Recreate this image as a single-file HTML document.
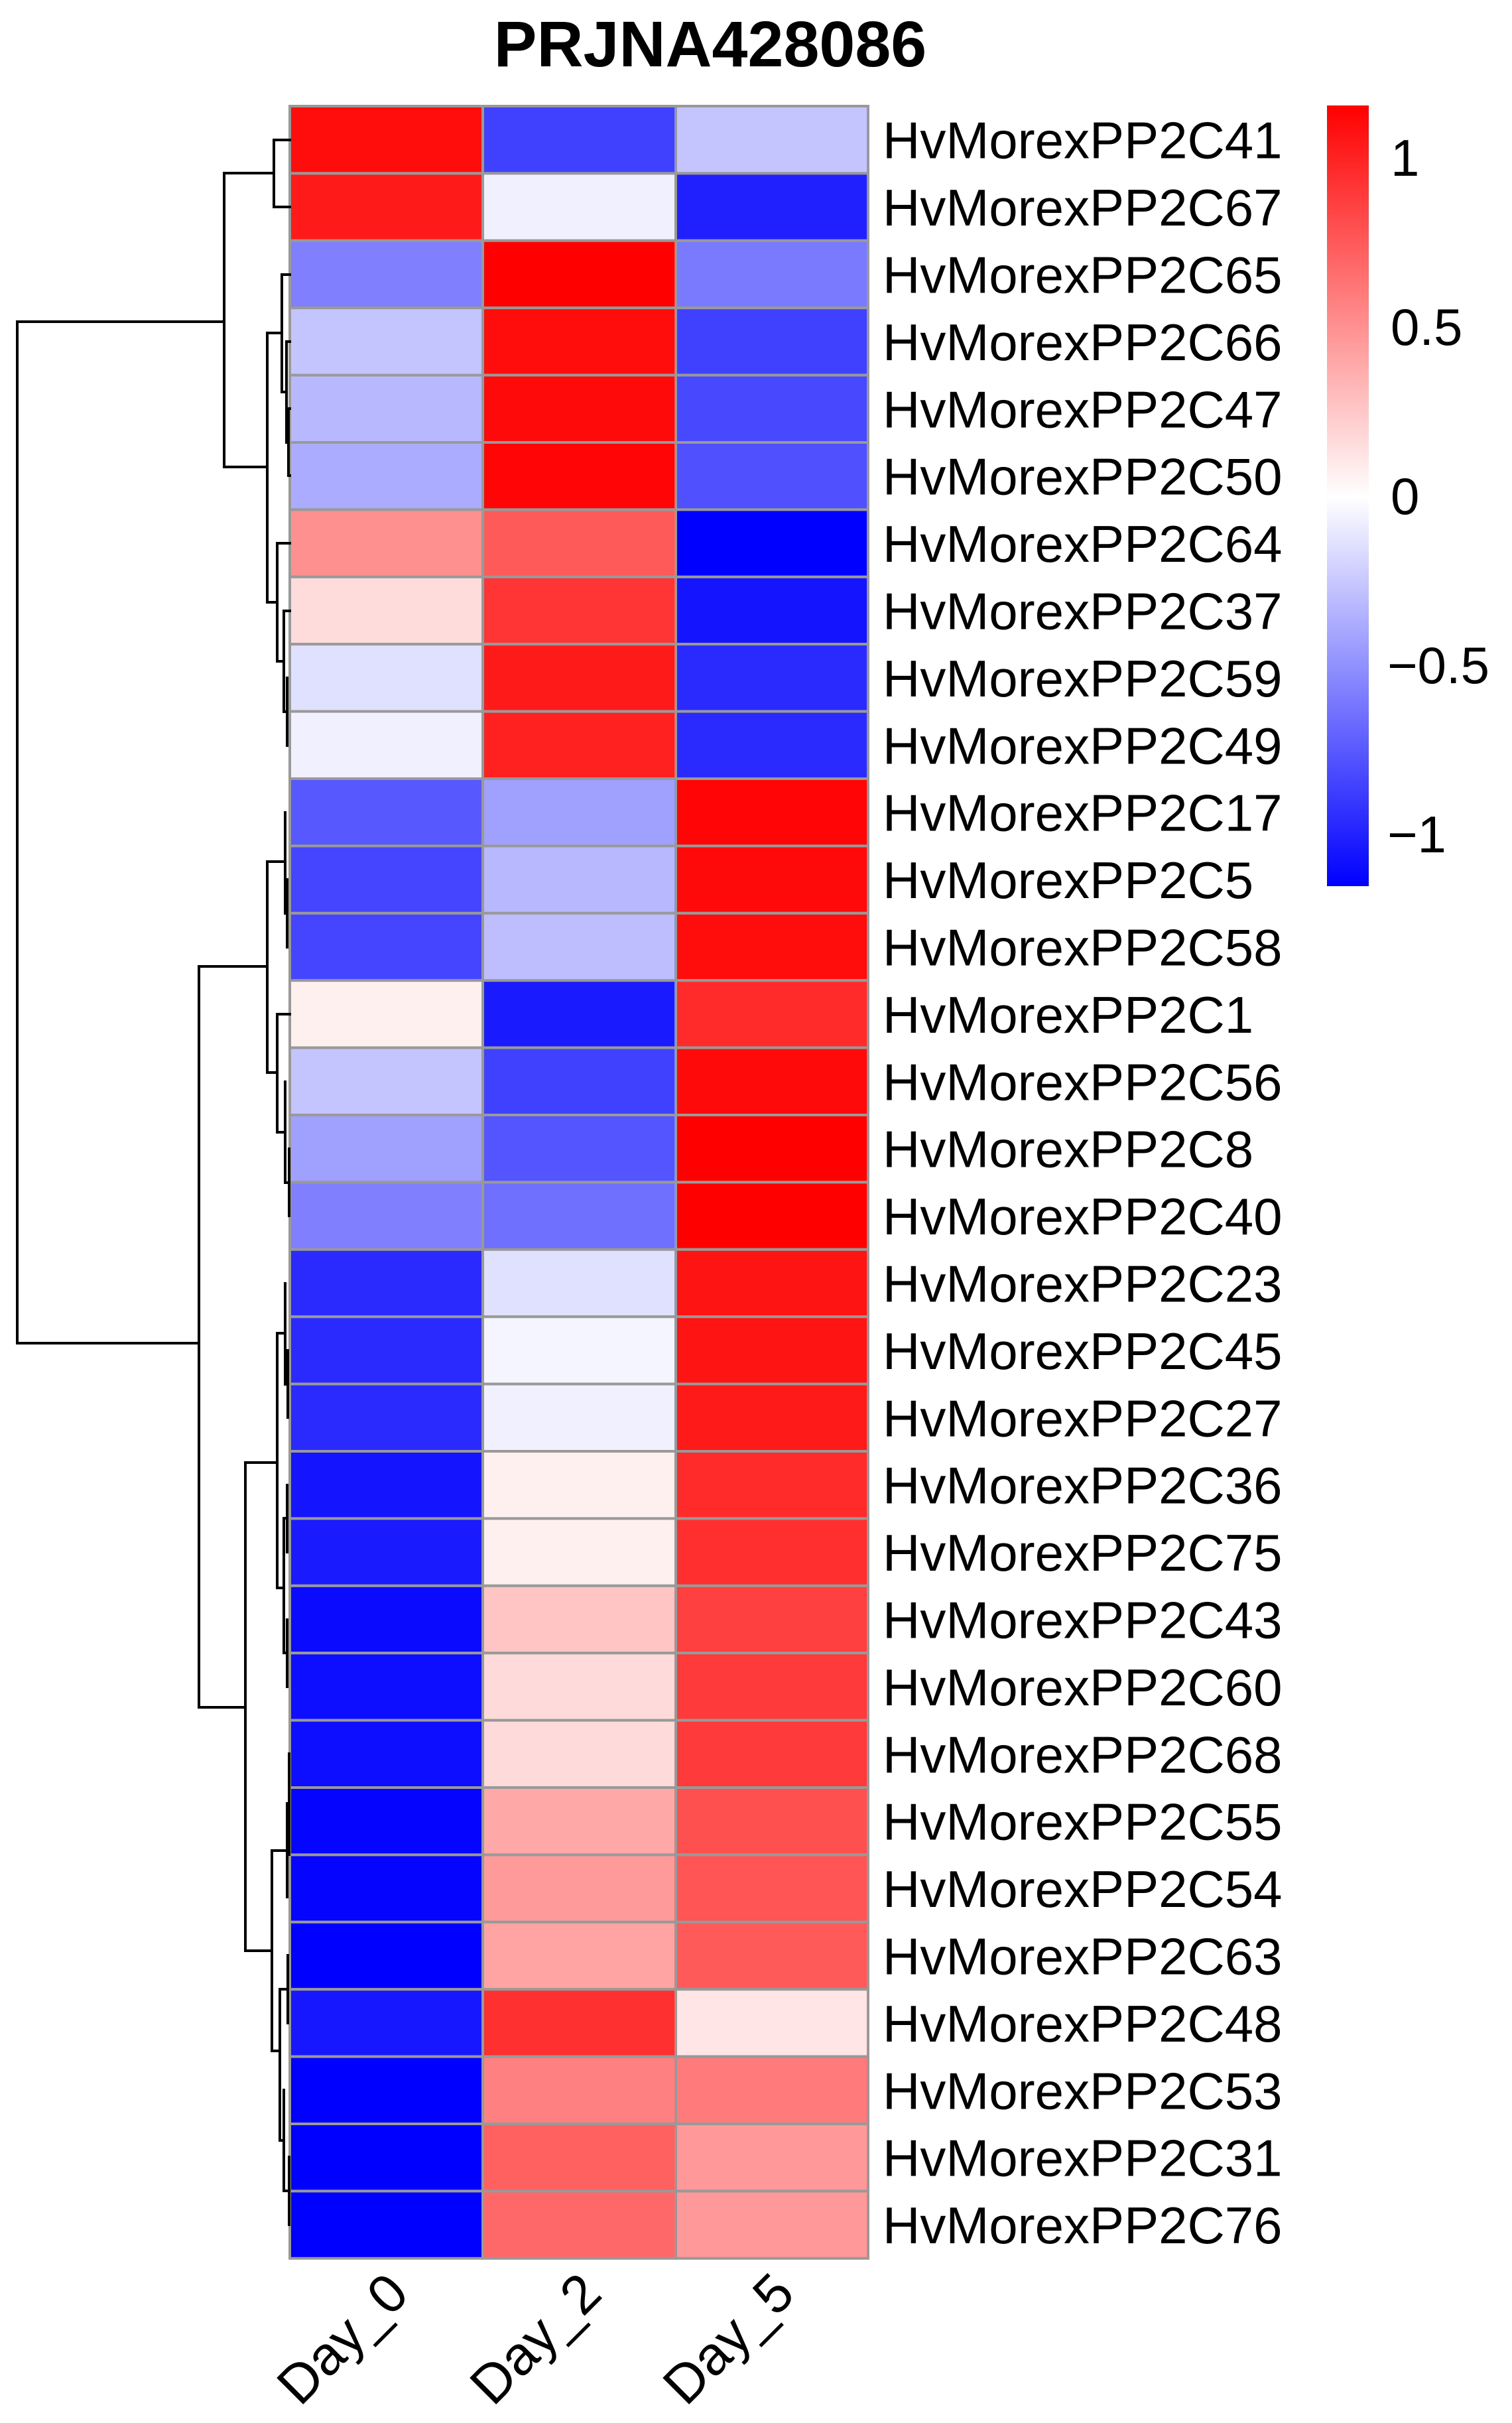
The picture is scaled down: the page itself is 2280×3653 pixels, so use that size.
<!DOCTYPE html>
<html><head><meta charset="utf-8"><style>html,body{margin:0;padding:0;background:#fff}svg{display:block}</style></head><body>
<svg width="2280" height="3653" viewBox="0 0 2280 3653" xmlns="http://www.w3.org/2000/svg" font-family="Liberation Sans, Arial, sans-serif">
<defs>
<linearGradient id="cb" x1="0" y1="0" x2="0" y2="1">
<stop offset="0" stop-color="#FF0000"/>
<stop offset="0.502" stop-color="#FFFFFF"/>
<stop offset="1" stop-color="#0000FF"/>
</linearGradient>
</defs>
<text x="1071" y="100" font-size="97" font-weight="bold" text-anchor="middle">PRJNA428086</text>
<g id="cells" stroke="#999" stroke-width="4">
</g>
<script>
var cols=[
["#FF0D0D","#4040FF","#C4C4FF"],["#FF1A1A","#F0F0FF","#2020FF"],["#8080FF","#FF0000","#7A7AFF"],["#C4C4FF","#FF0D0D","#4040FF"],["#B8B8FF","#FF0A0A","#4848FF"],["#ABABFF","#FF0505","#5050FF"],["#FF9090","#FF5A5A","#0000FF"],["#FFDCDC","#FF3535","#1414FF"],["#E0E0FF","#FF1A1A","#2A2AFF"],["#F0F0FF","#FF2020","#2A2AFF"],["#5858FF","#A0A0FF","#FF0505"],["#4545FF","#B8B8FF","#FF0A0A"],["#4545FF","#BEBEFF","#FF0D0D"],["#FFF0F0","#1A1AFF","#FF2A2A"],["#C4C4FF","#4040FF","#FF0A0A"],["#A0A0FF","#5555FF","#FF0000"],["#8080FF","#7070FF","#FF0000"],["#2A2AFF","#E0E0FF","#FF1414"],["#2A2AFF","#F5F5FF","#FF1414"],["#2A2AFF","#F0F0FF","#FF1A1A"],["#1414FF","#FFF0F0","#FF2A2A"],["#1A1AFF","#FFF0F0","#FF2F2F"],["#0A0AFF","#FFC4C4","#FF4040"],["#0D0DFF","#FFDADA","#FF3A3A"],["#0D0DFF","#FFDADA","#FF3A3A"],["#0505FF","#FFA8A8","#FF5050"],["#0505FF","#FF9A9A","#FF5555"],["#0000FF","#FFA3A3","#FF5A5A"],["#1717FF","#FF3030","#FFE5E5"],["#0000FF","#FF8080","#FF7A7A"],["#0000FF","#FF6060","#FF9999"],["#0000FF","#FF6868","#FF9999"]];
var names=["41","67","65","66","47","50","64","37","59","49","17","5","58","1","56","8","40","23","45","27","36","75","43","60","68","55","54","63","48","53","31","76"];
var xs=[437,728,1019,1309],y0=160,rh=101.4,ns="http://www.w3.org/2000/svg";
var g=document.getElementById("cells"),svg=g.ownerSVGElement;
for(var i=0;i<32;i++){for(var j=0;j<3;j++){var r=document.createElementNS(ns,"rect");r.setAttribute("x",xs[j]);r.setAttribute("y",y0+i*rh);r.setAttribute("width",xs[j+1]-xs[j]);r.setAttribute("height",rh);r.setAttribute("fill",cols[i][j]);g.appendChild(r);}
var t=document.createElementNS(ns,"text");t.setAttribute("x",1331);t.setAttribute("y",y0+(i+0.5)*rh+28);t.setAttribute("font-size","78");t.textContent="HvMorexPP2C"+names[i];svg.appendChild(t);}
</script>
<g stroke="#000" stroke-width="4" fill="none" stroke-linecap="square">
<path d="M26 485V2025M26 485H338M26 2025H300"/>
<path d="M338 261V704M338 261H413M413 211V312M413 211H437M413 312H437"/>
<path d="M338 704H403M403 502V908M403 502H425M425 414V591M425 414H437M425 591H432M432 515V667M432 515H437M432 667H435M435 616V717M435 616H437M435 717H437"/>
<path d="M403 908H418M418 819V997M418 819H437M418 997H428M428 921V1073M428 921H437M428 1073H433M433 1022V1124"/>
<path d="M300 1457V2574M300 1457H403M403 1299V1617M403 1299H430M430 1225V1377M430 1377H433M433 1326V1428M403 1617H418M418 1529V1707M418 1529H437M418 1707H430M430 1631V1783M430 1783H436M436 1732V1833"/>
<path d="M300 2574H370M370 2205V2941M370 2205H418M418 2010V2394M418 2010H430M430 1935V2087M430 2087H434M434 2036V2137M418 2394H428M428 2289V2492M428 2289H433M433 2239V2340M428 2492H433M433 2442V2543"/>
<path d="M370 2941H410M410 2790V3092M410 2790H433M433 2719V2860M433 2719H436M436 2644V2796M410 3092H422M422 2999V3227M422 2999H434M434 2948V3050M422 3227H428M428 3151V3303M428 3303H436M436 3252V3354"/>
</g>
<rect x="2001" y="159" width="63" height="1177" fill="url(#cb)"/>
<g font-size="78">
<text x="2097" y="265">1</text>
<text x="2097" y="520">0.5</text>
<text x="2097" y="775">0</text>
<text x="2092" y="1030">−0.5</text>
<text x="2092" y="1285">−1</text>
</g>
<g font-size="82" text-anchor="end">
<text transform="translate(620,3462) rotate(-45)">Day_0</text>
<text transform="translate(911,3462) rotate(-45)">Day_2</text>
<text transform="translate(1202,3462) rotate(-45)">Day_5</text>
</g>
</svg>
</body></html>
